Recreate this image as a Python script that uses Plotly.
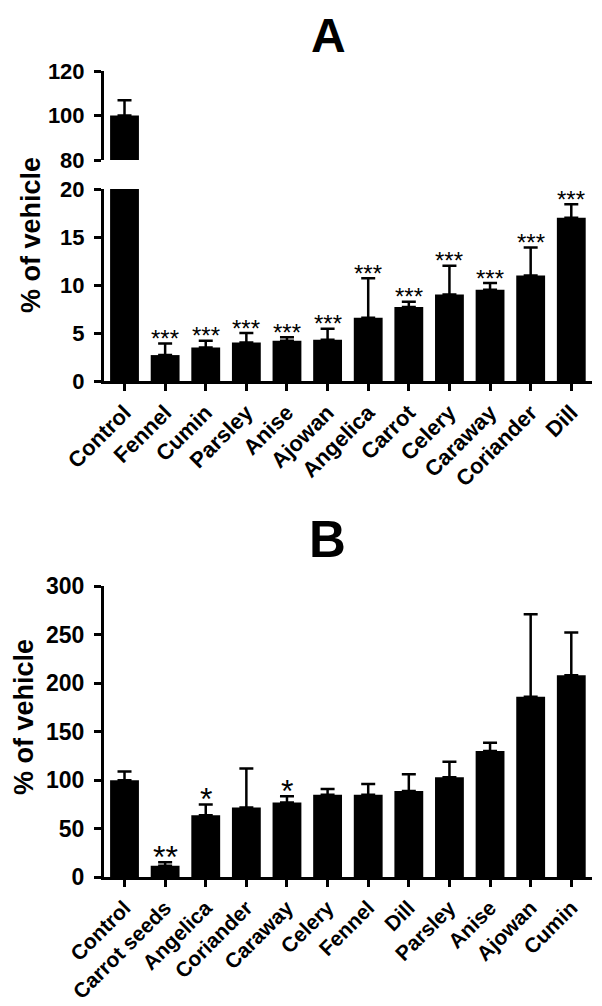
import plotly.graph_objects as go

# ---------------- data ----------------
cats_a = ["Control", "Fennel", "Cumin", "Parsley", "Anise", "Ajowan", "Angelica",
          "Carrot", "Celery", "Caraway", "Coriander", "Dill"]
vals_a = [100, 2.7, 3.5, 4.0, 4.2, 4.3, 6.6, 7.7, 9.0, 9.5, 11.0, 17.0]
err_a = [6.8, 1.2, 0.7, 1.0, 0.35, 1.15, 4.1, 0.55, 3.0, 0.7, 2.9, 1.4]
stars_a = ["", "***", "***", "***", "***", "***", "***", "***", "***", "***", "***", "***"]

cats_b = ["Control", "Carrot seeds", "Angelica", "Coriander", "Caraway", "Celery",
          "Fennel", "Dill", "Parsley", "Anise", "Ajowan", "Cumin"]
vals_b = [100, 12, 64, 72, 77, 85, 85, 89, 103, 130, 186, 208]
err_b = [9, 3.5, 11, 40, 6.5, 6, 11, 17, 16, 8.5, 85, 44]
stars_b = ["", "**", "*", "", "*", "", "", "", "", "", "", ""]

yticks_a_low = [0, 5, 10, 15, 20]
yticks_a_up = [80, 100, 120]
yticks_b = [0, 50, 100, 150, 200, 250, 300]

# page body has an 8px default margin; size the figure to fit the window
OFF = 8
W, H = 602 - OFF, 1006 - OFF
FONT = "Arial, Liberation Sans, Helvetica, sans-serif"


def px(x):
    return (x - OFF) / W


def py(y):
    return 1 - (y - OFF) / H


xdom = [px(104), px(592)]
xrange_ = [-0.505, 11.51]

fig = go.Figure()

bar_kw = dict(marker=dict(color="black", line=dict(width=0)), width=0.71,
              showlegend=False, hoverinfo="x+y")


def err(arr):
    return dict(type="data", array=arr, arrayminus=[0] * len(arr), symmetric=False,
                color="black", thickness=2.5, width=7)


# A lower segment
fig.add_trace(go.Bar(x=cats_a, y=vals_a, error_y=err(err_a), xaxis="x", yaxis="y", **bar_kw))
# A upper segment (only Control reaches this range)
fig.add_trace(go.Bar(x=cats_a[:1], y=vals_a[:1], error_y=err(err_a[:1]), xaxis="x2", yaxis="y2", **bar_kw))
# B
fig.add_trace(go.Bar(x=cats_b, y=vals_b, error_y=err(err_b), xaxis="x3", yaxis="y3", **bar_kw))

axis_common = dict(showline=True, linecolor="black", linewidth=3, ticks="outside",
                   tickcolor="black", tickwidth=3, showgrid=False, zeroline=False,
                   automargin=False)

XTF = dict(size=22, family=FONT, weight="bold", color="black")
XTF_B = dict(size=21, family=FONT, weight="bold", color="black")
YTF = dict(size=22, family=FONT, weight="bold", color="black")

fig.update_layout(
    template="none",
    width=W, height=H,
    margin=dict(l=0, r=0, t=0, b=0),
    paper_bgcolor="white", plot_bgcolor="white",
    bargap=0.29,
    font=dict(family=FONT, color="black"),
    xaxis=dict(domain=xdom, range=xrange_, anchor="y", ticklen=7, tickangle=-45,
               categoryorder="array", categoryarray=cats_a, tickfont=XTF, **axis_common),
    yaxis=dict(domain=[py(381), py(189)], range=[0, 20], anchor="x", tickvals=yticks_a_low,
               ticklen=7, ticklabelstandoff=5, tickfont=YTF, **axis_common),
    xaxis2=dict(domain=xdom, range=xrange_, anchor="y2", visible=False, automargin=False,
                categoryorder="array", categoryarray=cats_a),
    yaxis2=dict(domain=[py(160), py(71)], range=[80, 120], anchor="x2", tickvals=yticks_a_up,
                ticklen=7, ticklabelstandoff=5, tickfont=YTF, **axis_common),
    xaxis3=dict(domain=xdom, range=xrange_, anchor="y3", ticklen=7, tickangle=-45,
                categoryorder="array", categoryarray=cats_b, tickfont=XTF_B, **axis_common),
    yaxis3=dict(domain=[py(877.3), py(586)], range=[0, 300], anchor="x3", tickvals=yticks_b,
                ticklen=7, ticklabelstandoff=5,
                tickfont=dict(size=23, family=FONT, weight="bold", color="black"),
                **axis_common),
)

# significance stars
for c, v, e, s in zip(cats_a, vals_a, err_a, stars_a):
    if s:
        fig.add_annotation(x=c, y=v + e, xref="x", yref="y", text=s, showarrow=False,
                           yanchor="middle", yshift=5, font=dict(size=24, family=FONT, color="black"))
for c, v, e, s in zip(cats_b, vals_b, err_b, stars_b):
    if s:
        fig.add_annotation(x=c, y=v + e, xref="x3", yref="y3", text=s, showarrow=False,
                           yanchor="middle", yshift=5, font=dict(size=32, family=FONT, color="black"))

# panel letters
fig.add_annotation(x=px(328), y=1, xref="paper", yref="paper", text="A", showarrow=False,
                   xanchor="center", yanchor="top", yshift=0, borderpad=0,
                   font=dict(size=48, family=FONT, weight="bold", color="black"))
fig.add_annotation(x=px(327), y=py(539), xref="paper", yref="paper", text="B", showarrow=False,
                   xanchor="center", yanchor="middle",
                   font=dict(size=51, family=FONT, weight="bold", color="black"))

# y-axis titles
fig.add_annotation(x=px(31), y=py(235), xref="paper", yref="paper", text="% of vehicle",
                   showarrow=False, textangle=-90, xanchor="center", yanchor="middle",
                   font=dict(size=27, family=FONT, weight="bold", color="black"))
fig.add_annotation(x=px(24), y=py(717), xref="paper", yref="paper", text="% of vehicle",
                   showarrow=False, textangle=-90, xanchor="center", yanchor="middle",
                   font=dict(size=27, family=FONT, weight="bold", color="black"))

fig.write_html("out.html")
